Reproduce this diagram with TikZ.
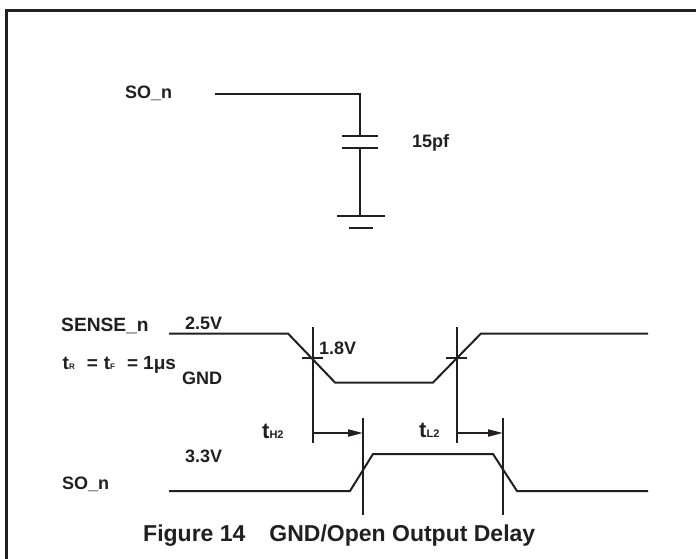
\documentclass[tikz,border=0pt]{standalone}
\usepackage{fontspec}
\setmainfont{Liberation Sans}
\usetikzlibrary{arrows.meta}
\definecolor{ink}{HTML}{231F20}
\newcommand{\smallsub}[2]{{\fontsize{#1}{#1}\selectfont #2}}
\begin{document}
\begin{tikzpicture}[x=1pt,y=-1pt,
  wire/.style={line width=2pt,draw=ink,line join=miter},
  frameline/.style={line width=3pt,draw=ink},
  lbl/.style={inner sep=0pt,font=\fontsize{18}{20}\selectfont\bfseries,text=ink,anchor=base west},
  tlbl/.style={inner sep=0pt,font=\fontsize{22}{24}\selectfont\bfseries,text=ink,anchor=base west},
  captionlbl/.style={inner sep=0pt,font=\fontsize{23}{26}\selectfont\bfseries,text=ink,anchor=base west},
  delay/.style={line width=2pt,draw=ink,-{Triangle[length=15pt,width=7pt]}}]
\useasboundingbox (0,0) rectangle (696,559);
\fill[white] (0,0) rectangle (696,559);
% frame
\coordinate (fb) at (6.5,559);
\coordinate (ftl) at (6.5,10.5);
\coordinate (ftr) at (696,10.5);
\draw[frameline] (fb) -- (ftl) -- (ftr);
% circuit
\coordinate (w0) at (215,94);
\coordinate (w1) at (360,94);
\coordinate (c1) at (360,136);
\coordinate (p1l) at (342,136);
\coordinate (p1r) at (378,136);
\coordinate (p2l) at (342,148);
\coordinate (p2r) at (378,148);
\coordinate (c2) at (360,148);
\coordinate (g0) at (360,216);
\coordinate (g1l) at (337,216);
\coordinate (g1r) at (385,216);
\coordinate (g2l) at (349,228);
\coordinate (g2r) at (373,228);
\draw[wire] (w0) -- (w1) -- (c1);
\draw[wire] (p1l) -- (p1r);
\draw[wire] (p2l) -- (p2r);
\draw[wire] (c2) -- (g0);
\draw[wire] (g1l) -- (g1r);
\draw[wire] (g2l) -- (g2r);
\node[lbl] (son1) at (125,99) {SO\_n};
\node[lbl] (cval) at (412,147) {15pf};
% SENSE_n waveform
\coordinate (s0) at (169,333.5);
\coordinate (s1) at (288,333.5);
\coordinate (s2) at (335,382.5);
\coordinate (s3) at (433,382.5);
\coordinate (s4) at (481,333.5);
\coordinate (s5) at (648,333.5);
\draw[wire] (s0) -- (s1) -- (s2) -- (s3) -- (s4) -- (s5);
% markers on SENSE_n
\coordinate (m1t) at (313,327);
\coordinate (m1b) at (313,443);
\coordinate (k1l) at (302,358);
\coordinate (k1r) at (323,358);
\coordinate (m2t) at (457,327);
\coordinate (m2b) at (457,443);
\coordinate (k2l) at (446,358);
\coordinate (k2r) at (467,358);
\draw[wire] (m1t) -- (m1b);
\draw[wire] (k1l) -- (k1r);
\draw[wire] (m2t) -- (m2b);
\draw[wire] (k2l) -- (k2r);
% SO_n waveform
\coordinate (o0) at (169,491);
\coordinate (o1) at (350,491);
\coordinate (o2) at (373,454);
\coordinate (o3) at (493,454);
\coordinate (o4) at (517,491);
\coordinate (o5) at (648,491);
\draw[wire] (o0) -- (o1) -- (o2) -- (o3) -- (o4) -- (o5);
\coordinate (n1t) at (363,418);
\coordinate (n1b) at (363,515);
\coordinate (n2t) at (503,418);
\coordinate (n2b) at (503,515);
\draw[wire] (n1t) -- (n1b);
\draw[wire] (n2t) -- (n2b);
% delay arrows
\coordinate (a1s) at (313,433);
\coordinate (a1e) at (363,433);
\coordinate (a2s) at (457,433);
\coordinate (a2e) at (503,433);
\draw[delay] (a1s) -- (a1e);
\draw[delay] (a2s) -- (a2e);
% labels
\node[lbl,font=\fontsize{19.2}{21}\selectfont\bfseries] (sense) at (61,331) {SENSE\_n};
\node[lbl] (v25) at (185,329.5) {2.5V};
\node[lbl] (v18) at (319,354.5) {1.8V};
\node[lbl,font=\fontsize{19}{21}\selectfont\bfseries] (trtf) at (62.5,369) {t\smallsub{8}{R}\hspace{12pt}=\hspace{6pt}t\smallsub{8}{F}\hspace{12pt}=\hspace{5pt}1μs};
\node[lbl] (gnd) at (182,384.5) {GND};
\node[tlbl] (th2) at (262,438) {t\smallsub{11}{H2}};
\node[tlbl] (tl2) at (419,437) {t\smallsub{11}{L2}};
\node[lbl] (v33) at (185,462.5) {3.3V};
\node[lbl] (son2) at (62,489) {SO\_n};
\node[captionlbl] (caption) at (143,541.5) {Figure 14\hspace{24pt}GND/Open Output Delay};
\end{tikzpicture}
\end{document}
